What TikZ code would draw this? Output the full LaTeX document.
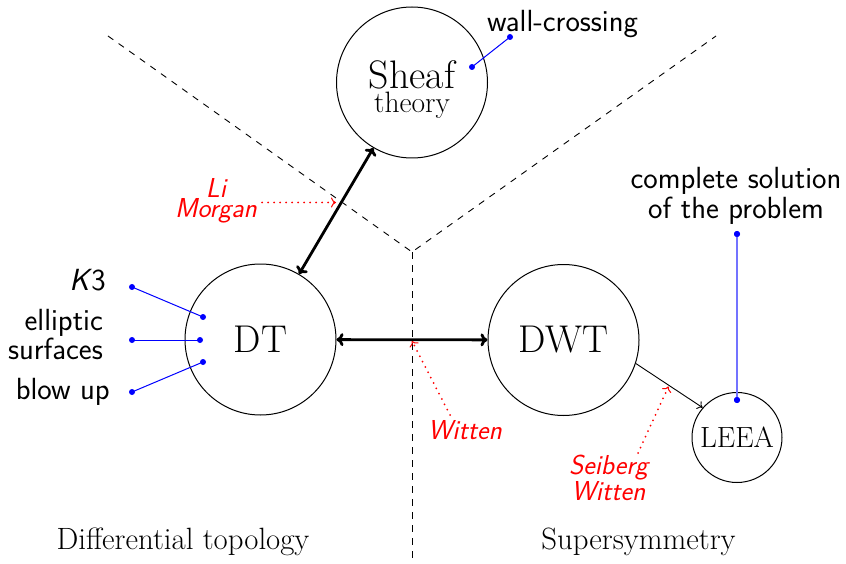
\documentclass[tikz,border=0pt]{standalone}
\usepackage{fontspec}
\usetikzlibrary{arrows.meta}
\begin{document}
\begin{tikzpicture}[x=1pt,y=-1pt,
  bubble/.style={circle,draw,line width=1pt,inner sep=0pt},
  bigword/.style={font=\fontsize{38.7}{42}\selectfont},
  divider/.style={line width=0.9pt,dash pattern=on 6.5pt off 6.5pt},
  mainarrow/.style={{To[length=7pt,width=13pt]}-{To[length=7pt,width=13pt]},line width=2.8pt},
  thinarrow/.style={-{To[length=5pt,width=9pt]},line width=0.9pt},
  credit/.style={red,line width=2pt,line cap=round,dash pattern=on 0pt off 6pt,
    -{To[length=5pt,width=10pt,line width=1pt]}},
  link/.style={blue,line width=1pt},
  softlink/.style={blue!55,line width=2pt},
  dot/.style={circle,fill=blue,inner sep=0pt,minimum size=6pt},
  lab/.style={font=\sffamily\fontsize{30.6}{32}\selectfont,inner sep=0pt},
  credlab/.style={red,font=\sffamily\itshape\fontsize{27.4}{20.5}\selectfont,align=center,inner sep=0pt},
  region/.style={font=\fontsize{30.8}{32}\selectfont,inner sep=0pt}]
\useasboundingbox (0,0) rectangle (846,564);

% dividing lines between the two fields
\coordinate (Y) at (412,252);
\coordinate (YL) at (108,36);
\coordinate (YR) at (716,36);
\coordinate (YB) at (412,564);
\draw[divider] (YL) -- (Y) -- (YR);
\draw[divider] (Y) -- (YB);

% main theories
\node[bubble,bigword,minimum size=151pt] (DT)  at (260.5,339.5) {DT};
\node[bubble,bigword,minimum size=151pt] (DWT) at (563.5,340) {DWT};
\node[bubble,minimum size=151pt] (Sheaf) at (412,82.5) {};
\node[align=center,inner sep=0pt,font=\fontsize{39.8}{24.4}\selectfont] (SheafText) at (412,89.5)
  {Sheaf\\\fontsize{29.5}{24.4}\selectfont theory};
\node[bubble,font=\fontsize{29.2}{30}\selectfont,minimum size=90pt] (LEEA) at (737,437.5) {LEEA};

% relations
\draw[mainarrow] (DT) -- (Sheaf);
\draw[mainarrow] (DT) -- (DWT);
\draw[thinarrow] (DWT.-18) -- (LEEA.139);

% contributors
\node[credlab] (LiMorgan) at (216,201) {Li\\Morgan};
\coordinate (LMtail) at (262,202.5);
\coordinate (LMhead) at (336,202.5);
\draw[credit] (LMtail) -- (LMhead);

\node[credlab] (WittenA) at (465,430.5) {Witten};
\coordinate (Wtail) at (450,415);
\coordinate (Whead) at (412,341);
\draw[credit] (Wtail) -- (Whead);

\node[credlab] (SeibergWitten) at (608.5,478) {Seiberg\\Witten};
\coordinate (SWtail) at (638,453);
\coordinate (SWhead) at (668.5,386.5);
\draw[credit] (SWtail) -- (SWhead);

% examples and results
\node[lab,anchor=east] (K3) at (106,280) {{\itshape K}\kern2pt 3};
\node[lab,anchor=east,align=right,font=\sffamily\fontsize{30.6}{25.3}\selectfont] (Ell) at (103,334.3) {elliptic\\surfaces};
\node[lab,anchor=east] (Blow) at (110,392.2) {blow up};
\node[lab] (Wall) at (562.5,24) {wall-crossing};
\node[lab,align=center,font=\sffamily\fontsize{30.6}{30.5}\selectfont] (Sol) at (736,196) {complete solution\\of the problem};

\node[dot] (k3o) at (132,287) {};
\node[dot] (k3i) at (203,317) {};
\node[dot] (elo) at (132,340) {};
\node[dot] (eli) at (200,340) {};
\node[dot] (blo) at (132,392) {};
\node[dot] (bli) at (203,362) {};
\node[dot] (wco) at (510,37) {};
\node[dot] (wci) at (472,67) {};
\node[dot] (cso) at (737,234) {};
\node[dot] (csi) at (737,400) {};
\draw[link] (k3o.center) -- (k3i.center);
\draw[link] (elo.center) -- (eli.center);
\draw[link] (blo.center) -- (bli.center);
\draw[link] (wco.center) -- (wci.center);
\draw[softlink] (cso.center) -- (csi.center);
\node[dot] at (cso) {};
\node[dot] at (csi) {};

% fields
\node[region] (DiffTop) at (183,542.2) {Differential topology};
\node[region] (SUSY) at (638.5,542.2) {Supersymmetry};
\end{tikzpicture}
\end{document}
